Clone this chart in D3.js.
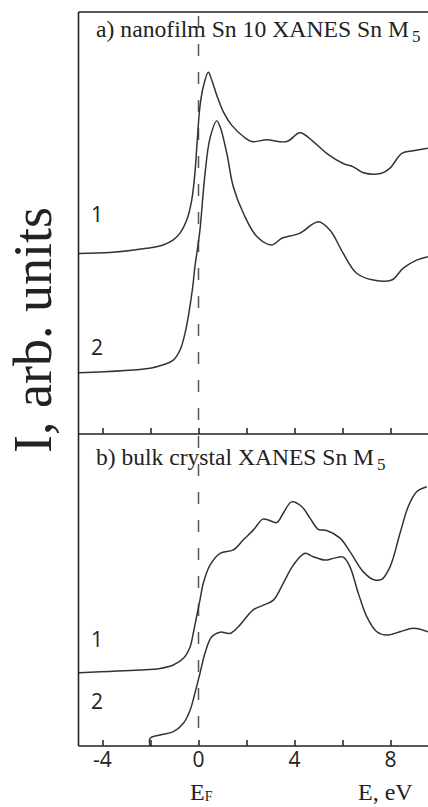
<!DOCTYPE html>
<html>
<head>
<meta charset="utf-8">
<script src="https://cdn.jsdelivr.net/npm/d3@7"></script>
<style>
    body { margin: 0; background: #fff; }
    svg { display: block; }
</style>
</head>
<body>
<div id="d3plot"></div>
<script>
// Data (E in eV, intensity in arb. units)
// ==================================================================
const energyTicks = [-4, -2, 0, 2, 4, 6, 8],
    energyLabels = [-4, 0, 4, 8];

const titleA = "a) nanofilm Sn 10 XANES Sn M",
    titleB = "b) bulk crystal XANES Sn M",
    titleSub = "5";

// panel a, curve 1
const film1 = [[-4.98, 42.8], [-3.69, 43.0], [-2.16, 44.0], [-1.47, 44.8], [-1.05, 46.0],
    [-0.77, 47.6], [-0.49, 50.7], [-0.28, 55.5], [-0.15, 61.8], [-0.05, 69.7], [0.06, 77.6],
    [0.2, 82.3], [0.41, 85.7], [0.55, 83.9], [0.76, 80.3], [1.03, 76.4], [1.38, 73.2],
    [1.87, 70.5], [2.22, 69.3], [2.84, 69.7], [3.68, 69.3], [4.23, 71.4], [4.78, 69.3],
    [5.34, 66.5], [6.03, 64.1], [6.45, 63.3], [6.87, 61.9], [7.63, 61.8], [7.98, 63.0],
    [8.47, 66.5], [8.95, 67.1], [9.56, 67.7]];

// panel a, curve 2
const film2 = [[-4.98, 14.5], [-2.02, 15.6], [-1.47, 16.4], [-1.05, 17.5], [-0.77, 19.9],
    [-0.56, 23.9], [-0.38, 29.4], [-0.24, 34.9], [-0.15, 39.6], [-0.05, 43.6], [0.06, 48.3],
    [0.27, 61.6], [0.48, 70.1], [0.76, 74.2], [0.9, 72.8], [1.18, 66.5], [1.45, 58.6],
    [1.87, 52.3], [2.43, 46.8], [3.05, 44.8], [3.47, 46.4], [3.81, 46.9], [4.23, 47.6],
    [4.99, 50.3], [5.48, 48.3], [6.03, 42.8], [6.59, 38.1], [7.28, 36.5], [8.05, 36.5],
    [8.53, 39.3], [9.09, 41.2], [9.56, 42.0]];

// panel b, curve 1
const bulk1 = [[-4.98, 17.4], [-2.44, 18.0], [-1.6, 18.4], [-1.05, 19.2], [-0.63, 20.8],
    [-0.35, 23.5], [-0.22, 26.7], [-0.08, 30.7], [0.06, 34.6], [0.2, 38.6], [0.48, 42.9],
    [0.9, 45.7], [1.45, 46.5], [1.87, 48.9], [2.28, 51.2], [2.68, 53.8], [2.91, 53.6],
    [3.26, 53.0], [3.53, 55.2], [3.88, 57.9], [4.3, 56.8], [4.65, 54.0], [4.99, 51.4],
    [5.34, 51.1], [5.9, 49.3], [6.31, 46.1], [6.87, 41.3], [7.28, 39.5], [7.63, 39.5],
    [7.98, 42.5], [8.4, 50.5], [8.74, 56.8], [9.09, 60.3], [9.51, 61.5]];

// panel b, curve 2
const bulk2 = [[-2.02, 0], [-2.02, 1.8], [-1.6, 2.6], [-1.05, 3.4], [-0.63, 5.4],
    [-0.35, 8.5], [-0.15, 12.5], [0.06, 17.2], [0.27, 22.0], [0.55, 25.9], [0.9, 27.0],
    [1.31, 26.7], [1.66, 28.3], [2.28, 32.3], [2.7, 33.4], [3.12, 34.6], [3.53, 38.6],
    [3.95, 42.9], [4.44, 45.7], [4.78, 44.9], [5.27, 44.1], [5.62, 44.5], [6.03, 44.8],
    [6.31, 42.5], [6.66, 36.2], [7.01, 30.7], [7.43, 27.1], [7.84, 26.3], [8.4, 27.1],
    [8.95, 27.9], [9.56, 27.1]];

// Layout
// ==================================================================
const W = 428, H = 807,
    left = 78.5,
    topA = 12, split = 434, bottom = 746,
    serif = "'Liberation Serif', 'Times New Roman', serif",
    sans = "'Open Sans', 'DejaVu Sans', sans-serif",
    ink = "#222";

// Scales
// ==================================================================
let xScale = d3.scaleLinear()
    .domain([-5, 9.65])
    .range([left, left + 14.65 * 24]);

let yA = d3.scaleLinear().domain([0, 100]).range([split, topA]);
let yB = d3.scaleLinear().domain([0, 74]).range([bottom, split]);

// Functions
// ==================================================================
function draw_curve(data, y) {
    svg.append("path")
        .datum(data)
        .attr("fill", "none")
        .attr("stroke", "#333")
        .attr("stroke-width", 1.5)
        .attr("d", d3.line()
            .x(function(d) { return xScale(d[0]); })
            .y(function(d) { return y(d[1]); })
            .curve(d3.curveCatmullRom.alpha(0.5)));
}

function draw_axis(yPos, labels) {
    let axis = svg.append("g")
        .attr("transform", "translate(0," + yPos + ")")
        .call(d3.axisTop(xScale)
            .tickValues(energyTicks)
            .tickSize(6)
            .tickFormat(""));
    axis.select(".domain").remove();
    axis.selectAll("line").attr("stroke", ink).attr("stroke-width", 1.5);

    svg.append("line")
        .attr("x1", left).attr("x2", W)
        .attr("y1", yPos).attr("y2", yPos)
        .attr("stroke", ink).attr("stroke-width", 1.6);

    if (labels) {
        svg.selectAll("tick-label")
            .data(energyLabels)
            .enter()
            .append("text")
                .attr("x", function(d) { return xScale(d); })
                .attr("y", yPos + 21)
                .attr("text-anchor", "middle")
                .attr("font-family", sans)
                .attr("font-size", "21px")
                .attr("fill", ink)
                .text(function(d) { return d; });
    }
}

// title text stretched to the reference width, subscript as its own text
function draw_title(text, yPos, len, size) {
    svg.append("text")
        .attr("x", 96)
        .attr("y", yPos)
        .attr("font-family", serif)
        .attr("font-size", size + "px")
        .attr("fill", ink)
        .attr("textLength", len)
        .attr("lengthAdjust", "spacingAndGlyphs")
        .text(text);
    svg.append("text")
        .attr("x", 96 + len + 3)
        .attr("y", yPos + 5)
        .attr("font-family", serif)
        .attr("font-size", "17px")
        .attr("fill", ink)
        .text(titleSub);
}

function curve_label(text, yPos) {
    svg.append("text")
        .attr("x", 91)
        .attr("y", yPos)
        .attr("font-family", sans)
        .attr("font-size", "21px")
        .attr("fill", ink)
        .text(text);
}

// Add svg
// ==================================================================
let svg = d3.select("#d3plot")
    .append("svg")
        .attr("width", W)
        .attr("height", H);

// Plot
// ==================================================================
// frame: left axis and top border
svg.append("line")
    .attr("x1", left).attr("x2", left)
    .attr("y1", topA).attr("y2", bottom)
    .attr("stroke", ink).attr("stroke-width", 1.6);
svg.append("line")
    .attr("x1", left).attr("x2", W)
    .attr("y1", topA).attr("y2", topA)
    .attr("stroke", ink).attr("stroke-width", 1.6);

draw_axis(split, false);
draw_axis(bottom, true);

// Fermi level
svg.append("line")
    .attr("x1", xScale(0)).attr("x2", xScale(0))
    .attr("y1", topA + 4).attr("y2", bottom)
    .attr("stroke", "#555")
    .attr("stroke-width", 1.5)
    .attr("stroke-dasharray", "12,16");

draw_curve(film1, yA);
draw_curve(film2, yA);
draw_curve(bulk1, yB);
draw_curve(bulk2, yB);

draw_title(titleA, 37, 313, 24);
draw_title(titleB, 465, 278, 22.5);

curve_label("1", 222);
curve_label("2", 355);
curve_label("1", 647);
curve_label("2", 709);

// axis titles
svg.append("text")
    .attr("transform", "translate(51,330) rotate(-90)")
    .attr("text-anchor", "middle")
    .attr("font-family", serif)
    .attr("font-size", "54px")
    .attr("fill", ink)
    .text("I, arb. units");

let ef = svg.append("text")
    .attr("x", 190)
    .attr("y", 800)
    .attr("font-family", serif)
    .attr("font-size", "24px")
    .attr("fill", ink)
    .text("E");
ef.append("tspan")
    .attr("dy", 1)
    .attr("font-size", "14px")
    .text("F");

svg.append("text")
    .attr("x", 358)
    .attr("y", 800)
    .attr("font-family", serif)
    .attr("font-size", "24px")
    .attr("fill", ink)
    .text("E, eV");
</script>
</body>
</html>
